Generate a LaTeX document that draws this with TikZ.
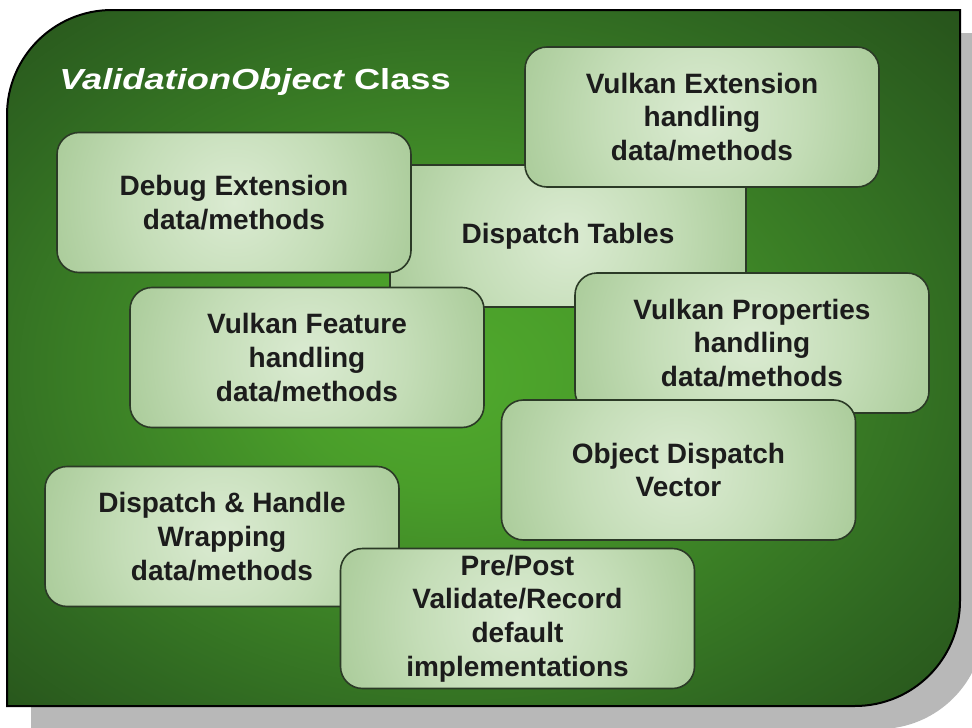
\documentclass[tikz,border=0pt]{standalone}
\usepackage{fontspec}
\setmainfont{Liberation Sans}
\newfontfamily\titlefont[FakeStretch=1.25]{Liberation Sans}
\definecolor{bgA}{HTML}{50AA2D}
\definecolor{bgB}{HTML}{4A9E2A}
\definecolor{bgC}{HTML}{3C8226}
\definecolor{bgD}{HTML}{2F6721}
\definecolor{bgE}{HTML}{28561C}
\definecolor{bgF}{HTML}{22481A}
\definecolor{bgG}{HTML}{1E3D15}
\definecolor{boxA}{HTML}{DBEBD2}
\definecolor{boxB}{HTML}{C4DDB7}
\definecolor{boxC}{HTML}{9CC28A}
\definecolor{boxline}{HTML}{2B3A26}
\definecolor{shadowc}{HTML}{B8B8B8}
\definecolor{textc}{HTML}{1C1C1C}
\pgfdeclareradialshading{bgshade}{\pgfpoint{-2.5bp}{-1.5bp}}{color(0bp)=(bgA); color(8bp)=(bgB); color(18bp)=(bgC); color(28bp)=(bgD); color(35bp)=(bgE); color(45bp)=(bgF); color(50bp)=(bgG)}
\pgfdeclareradialshading{boxshade}{\pgfpointorigin}{color(0bp)=(boxA); color(10bp)=(boxB); color(24bp)=(boxC); color(50bp)=(boxC)}
\newcommand\boxfont{\bfseries\fontsize{21}{25.3}\selectfont}
\begin{document}
\begin{tikzpicture}[x=0.75pt,y=-0.75pt,
  box/.style={draw=boxline, line width=1.2pt, rounded corners=16.5pt,
    minimum width=265.5pt, minimum height=105pt, align=center, inner sep=0pt,
    font=\boxfont, text=textc,
    path picture={\shade[shading=boxshade] (path picture bounding box.center) circle[radius=187.5pt];}},
  panel/.style={draw=black, line width=1.5pt, shading=bgshade},
  shadowpanel/.style={fill=shadowc, draw=none}]
\useasboundingbox (0,0) rectangle (972,728);
\clip (0,0) rectangle (972,728);
% shadow
\begin{scope}[shift={(24,23)}]
\path[shadowpanel] (7,706) -- (7,115) arc[start angle=180, end angle=270, radius=105]
  -- (960,10) -- (960,601) arc[start angle=0, end angle=90, radius=105] -- cycle;
\end{scope}
% main panel
\path[panel] (7,706) -- (7,115) arc[start angle=180, end angle=270, radius=105]
  -- (960,10) -- (960,601) arc[start angle=0, end angle=90, radius=105] -- cycle;
% title
\node[anchor=base west, inner sep=0pt, text=white,
  font=\titlefont\bfseries\fontsize{21.75}{26}\selectfont] (title) at (59,89)
  {\itshape ValidationObject\upshape{} Class};
% boxes
\node[box, sharp corners, minimum width=267pt, minimum height=106.5pt] (tables) at (568,236) {Dispatch Tables};
\node[box] (debug) at (234,202.5) {Debug Extension\\data/methods};
\node[box] (feature) at (307,357.5) {Vulkan Feature\\handling\\data/methods};
\node[box] (ext) at (702,117) {Vulkan Extension\\handling\\data/methods};
\node[box] (props) at (752,343) {Vulkan Properties\\handling\\data/methods};
\node[box] (objdisp) at (678.5,470) {Object Dispatch\\Vector};
\node[box] (wrap) at (222,536.5) {Dispatch \& Handle\\Wrapping\\data/methods};
\node[box] (prepost) at (517.5,618.5) {Pre/Post\\Validate/Record\\default\\implementations};
\end{tikzpicture}
\end{document}
